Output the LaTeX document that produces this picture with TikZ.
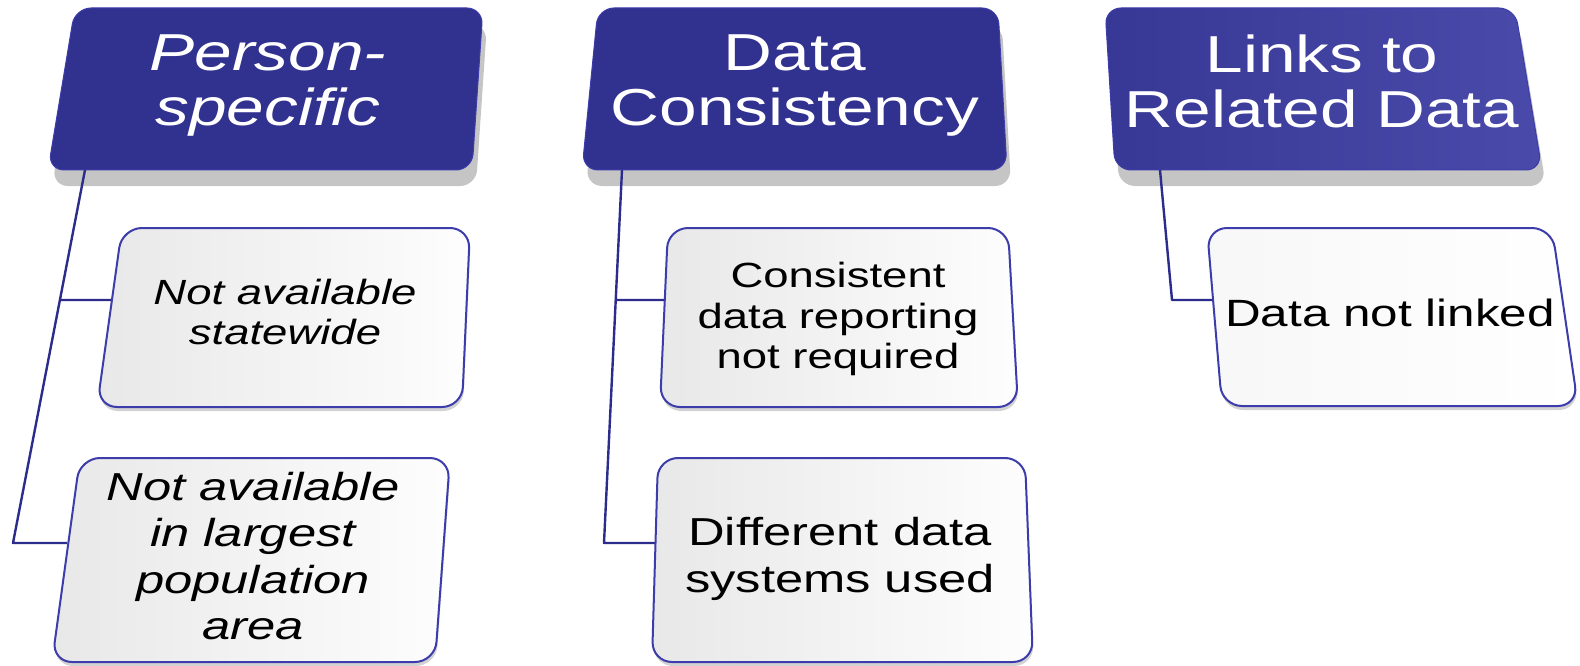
\documentclass[tikz,border=0pt]{standalone}
\usepackage{fontspec}
\setmainfont{Liberation Sans}[FakeStretch=1.3]
\usetikzlibrary{shadows}
\definecolor{hdblue}{RGB}{49,49,143}
\definecolor{hdlight}{RGB}{74,74,170}
\definecolor{rimblue}{RGB}{60,60,170}
\definecolor{cardgray}{RGB}{232,232,232}
\definecolor{linkblue}{RGB}{44,44,140}
\begin{document}
\begin{tikzpicture}[x=1pt,y=-1pt,line join=round,
		header/.style={rounded corners=16pt,draw=rimblue,line width=1pt,drop shadow={shadow xshift=4pt,shadow yshift=-16pt,fill=black!45,opacity=.5}},
		card/.style={rounded corners=20pt,draw=rimblue,line width=2pt,left color=cardgray,right color=white!93!cardgray,drop shadow={shadow xshift=1pt,shadow yshift=-4pt,fill=black!35,opacity=.5}},
		link/.style={draw=linkblue,line width=2.4pt},
		htext/.style={text=white,align=center,inner sep=0pt,font=\fontsize{52}{55}\selectfont},
		htextit/.style={htext,font=\fontsize{52}{55}\selectfont\itshape},
		ctext/.style={align=center,inner sep=0pt,font=\fontsize{39}{46.5}\selectfont},
		csmall/.style={align=center,inner sep=0pt,font=\fontsize{35}{40.5}\selectfont}]
	\useasboundingbox (0,0) rectangle (1580,666);
	% header boxes
	\draw[header,fill=hdblue] (75,8)--(483,8)--(472,170)--(48,170)--cycle;
	\draw[header,fill=hdblue] (598,8)--(998,8)--(1007,170)--(582,170)--cycle;
	\draw[header,left color=hdblue!75!hdlight,right color=hdlight] (1105,8)--(1515,8)--(1542,170)--(1115,170)--cycle;
	\node[htextit] (hP) at (268,86) {Person-\\specific};
	\node[htext] (hD) at (795,86) {Data\\Consistency};
	\node[htext] (hL) at (1322,81) {Links to\\Related Data};
	% connectors
	\coordinate (pTop) at (85,170); \coordinate (pBot) at (13,543); \coordinate (pMid) at (60,300);
	\coordinate (p1In) at (111,300); \coordinate (p2In) at (67,543);
	\coordinate (dTop) at (622,170); \coordinate (dBot) at (604,543); \coordinate (dMid) at (616,300);
	\coordinate (d1In) at (665,300); \coordinate (d2In) at (655,543);
	\coordinate (lTop) at (1160,170); \coordinate (lBot) at (1172,300); \coordinate (l1In) at (1213,300);
	\draw[link] (pTop)--(pBot)--(p2In) (pMid)--(p1In);
	\draw[link] (dTop)--(dBot)--(d2In) (dMid)--(d1In);
	\draw[link] (lTop)--(lBot)--(l1In);
	% item boxes
	\draw[card] (122,228)--(470,228)--(462,407)--(97,407)--cycle;
	\draw[card] (80,458)--(450,458)--(435,662)--(52,662)--cycle;
	\draw[card] (668,228)--(1008,228)--(1018,407)--(660,407)--cycle;
	\draw[card] (658,458)--(1025,458)--(1033,662)--(652,662)--cycle;
	\draw[card,left color=white!97!black,right color=white] (1207,228)--(1552,228)--(1578,406)--(1222,406)--cycle;
	\node[csmall,font=\fontsize{35}{40.5}\selectfont\itshape] (cP1) at (285,312) {Not available\\statewide};
	\node[ctext,font=\fontsize{39}{46.5}\selectfont\itshape] (cP2) at (253,556) {Not available\\in largest\\population\\area};
	\node[csmall] (cD1) at (838,319) {Consistent\\data reporting\\not required};
	\node[ctext] (cD2) at (840,559) {Different data\\systems used};
	\node[ctext,font=\fontsize{38}{45}\selectfont] (cL1) at (1390,313) {Data not linked};
\end{tikzpicture}
\end{document}
